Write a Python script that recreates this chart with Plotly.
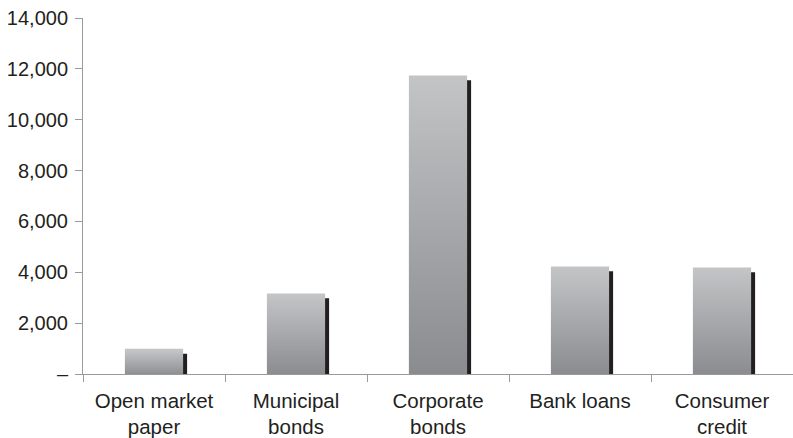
import plotly.graph_objects as go

# Outstanding amounts by type of instrument
categories = ["Open market<br>paper", "Municipal<br>bonds", "Corporate<br>bonds",
              "Bank loans", "Consumer<br>credit"]
values = [990, 3170, 11740, 4230, 4190]

y_tickvals = [0, 2000, 4000, 6000, 8000, 10000, 12000, 14000]
y_ticktext = ["–", "2,000", "4,000", "6,000", "8,000", "10,000", "12,000", "14,000"]

TEXT = "#231f20"
AXIS = "#9a9a9a"
SHADOW = "#231f20"
BAR_TOP = "#c3c4c6"
BAR_BOTTOM = "#8a8b8e"

HALF_W = 0.205        # half bar width, in category units
SHADOW_DX = 0.028     # shadow shift to the right
SHADOW_DY = 190       # shadow drop, in value units

idx = list(range(len(categories)))

fig = go.Figure()

# dark drop shadow behind each bar
fig.add_trace(go.Bar(
    x=[i + SHADOW_DX for i in idx],
    y=[v - SHADOW_DY for v in values],
    width=2 * HALF_W,
    marker=dict(color=SHADOW, line=dict(width=0)),
    showlegend=False, hoverinfo="skip",
))

# gradient-filled bar faces
for i, v in zip(idx, values):
    fig.add_trace(go.Scatter(
        x=[i - HALF_W, i + HALF_W, i + HALF_W, i - HALF_W, i - HALF_W],
        y=[0, 0, v, v, 0],
        mode="lines",
        line=dict(width=0, color=BAR_TOP),
        fill="toself",
        fillgradient=dict(type="vertical", start=0, stop=v,
                          colorscale=[[0, BAR_BOTTOM], [1, BAR_TOP]]),
        showlegend=False, hoverinfo="skip",
    ))

fig.update_layout(
    width=793, height=438,
    margin=dict(l=83, r=0, t=18, b=62),
    paper_bgcolor="white", plot_bgcolor="white",
    barmode="overlay",
    font=dict(family="Liberation Sans, Arial, sans-serif", color=TEXT, size=20),
)

fig.update_xaxes(
    range=[-0.5, len(categories) - 0.5],
    tickvals=idx, ticktext=categories,
    ticks="", showgrid=False, zeroline=False,
    showline=True, linecolor=AXIS, linewidth=1,
    tickfont=dict(size=20.5, color=TEXT),
    ticklabelstandoff=8,
    minor=dict(tickvals=[i - 0.5 for i in range(len(categories) + 1)],
               ticks="outside", ticklen=7, tickcolor=AXIS, tickwidth=1),
)

fig.update_yaxes(
    range=[0, 14000],
    tickvals=y_tickvals, ticktext=y_ticktext,
    ticks="outside", ticklen=7, tickcolor=AXIS, tickwidth=1,
    showgrid=False, zeroline=False,
    showline=True, linecolor=AXIS, linewidth=1,
    tickfont=dict(size=20, color=TEXT),
    ticklabelstandoff=3,
)

fig.write_html("out.html")
